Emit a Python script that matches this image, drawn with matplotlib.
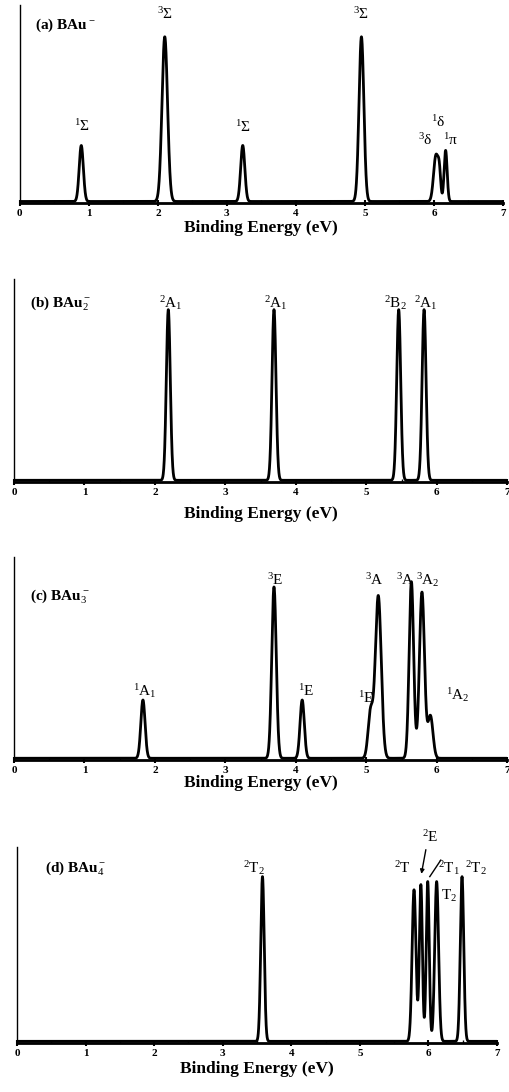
import matplotlib.pyplot as plt
import numpy as np

plt.rcParams['font.family'] = ['Liberation Serif', 'DejaVu Serif']
plt.rcParams['mathtext.fontset'] = 'custom'
plt.rcParams['mathtext.rm'] = 'Liberation Serif'
plt.rcParams['mathtext.it'] = 'Liberation Serif'
plt.rcParams['mathtext.bf'] = 'Liberation Serif:bold'

# peak positions (eV), relative heights and widths for each panel
a_pos = [0.89, 2.10, 3.23, 4.95, 6.03, 6.08, 6.17]
a_hgt = [0.34, 1.00, 0.34, 1.00, 0.28, 0.14, 0.31]
a_wid = [0.030, 0.040, 0.030, 0.035, 0.034, 0.020, 0.022]

b_pos = [2.19, 3.69, 5.46, 5.82]
b_hgt = [1.00, 1.00, 1.00, 1.00]
b_wid = [0.028, 0.028, 0.028, 0.028]

c_pos = [1.83, 3.69, 4.09, 5.06, 5.17, 5.64, 5.79, 5.91]
c_hgt = [0.33, 0.97, 0.33, 0.26, 0.92, 1.00, 0.94, 0.24]
c_wid = [0.030, 0.032, 0.030, 0.035, 0.042, 0.032, 0.036, 0.036]

d_pos = [3.58, 5.79, 5.89, 5.99, 6.12, 6.49]
d_hgt = [1.00, 0.92, 0.95, 0.97, 0.97, 1.00]
d_wid = [0.025, 0.028, 0.022, 0.022, 0.028, 0.025]

# state labels: (text, x, y)
a_labels = [(r'$^1\Sigma$', 0.90, 0.46), (r'$^3\Sigma$', 2.10, 1.14),
            (r'$^1\Sigma$', 3.23, 0.45), (r'$^3\Sigma$', 4.95, 1.14),
            (r'$^1\delta$', 6.07, 0.48), (r'$^3\delta$', 5.88, 0.37),
            (r'$^1\pi$', 6.25, 0.37)]
b_labels = [(r'$^2$A$_1$', 2.22, 1.04), (r'$^2$A$_1$', 3.72, 1.04),
            (r'$^2$B$_2$', 5.42, 1.04), (r'$^2$A$_1$', 5.85, 1.04)]
c_labels = [(r'$^1$A$_1$', 1.86, 0.38), (r'$^3$E', 3.70, 1.01),
            (r'$^1$E', 4.14, 0.38), (r'$^1$E', 5.00, 0.34),
            (r'$^3$A', 5.12, 1.01), (r'$^3$A', 5.55, 1.01),
            (r'$^3$A$_2$', 5.88, 1.01), (r'$^1$A$_2$', 6.30, 0.36)]
d_labels = [(r'$^2$T$_2$', 3.45, 1.05), (r'$^2$T', 5.62, 1.05),
            (r'$^2$E', 6.02, 1.24), (r'$^2$T$_1$', 6.30, 1.05),
            (r'T$_2$', 6.30, 0.88), (r'$^2$T$_2$', 6.70, 1.05)]

titles = [r'(a) BAu$^-$', r'(b) BAu$_2^-$', r'(c) BAu$_3^-$', r'(d) BAu$_4^-$']

x = np.linspace(0, 7, 4000)


def spectrum(pos, hgt, wid):
    y = np.zeros_like(x)
    for p, h, w in zip(pos, hgt, wid):
        y += h * np.exp(-(x - p) ** 2 / (2 * w ** 2))
    return y


fig = plt.figure(figsize=(5.09, 10.92), dpi=100)

panels = [
    (a_pos, a_hgt, a_wid, a_labels, [0.039, 0.814, 0.949, 0.181], 1.19, (0.22, 1.07), 1),
    (b_pos, b_hgt, b_wid, b_labels, [0.0275, 0.5586, 0.969, 0.186], 1.18, (0.23, 1.04), 6),
    (c_pos, c_hgt, c_wid, c_labels, [0.0275, 0.304, 0.969, 0.186], 1.14, (0.23, 0.92), 0),
    (d_pos, d_hgt, d_wid, d_labels, [0.0334, 0.0449, 0.943, 0.1795], 1.18, (0.41, 1.05), 2),
]

for i, (pos, hgt, wid, labels, rect, top, tpos, pad) in enumerate(panels):
    ax = fig.add_axes(rect)
    ax.plot(x, spectrum(pos, hgt, wid), color='black', lw=2.0)
    ax.set_xlim(0, 7)
    ax.set_ylim(-0.01, top)
    for s in ['top', 'right']:
        ax.spines[s].set_visible(False)
    ax.spines['bottom'].set_linewidth(2.0)
    ax.spines['left'].set_linewidth(1.0)
    ax.set_yticks([])
    ax.set_xticks(range(8))
    ax.set_xticks(np.arange(0.5, 7, 0.5), minor=True)
    ax.tick_params(axis='x', which='major', direction='inout', length=5, width=1.5,
                   labelsize=8, pad=2)
    ax.tick_params(axis='x', which='minor', direction='in', length=2, width=1)
    for lab in ax.get_xticklabels():
        lab.set_fontweight('bold')
    ax.set_xlabel('Binding Energy (eV)', fontsize=12.5, fontweight='bold', labelpad=pad)
    ax.text(tpos[0], tpos[1], titles[i], fontsize=11, va='center', ha='left',
            fontweight='bold')
    for t, lx, ly in labels:
        ax.text(lx, ly, t, fontsize=11, ha='center', va='center')
    if i == 3:
        ax.annotate('', xy=(5.89, 1.0), xytext=(5.97, 1.18),
                    arrowprops=dict(arrowstyle='-|>', color='black', lw=1, mutation_scale=6))
        ax.plot([6.02, 6.18], [1.0, 1.1], color='black', lw=1)

fig.savefig('out.png', dpi=100)
